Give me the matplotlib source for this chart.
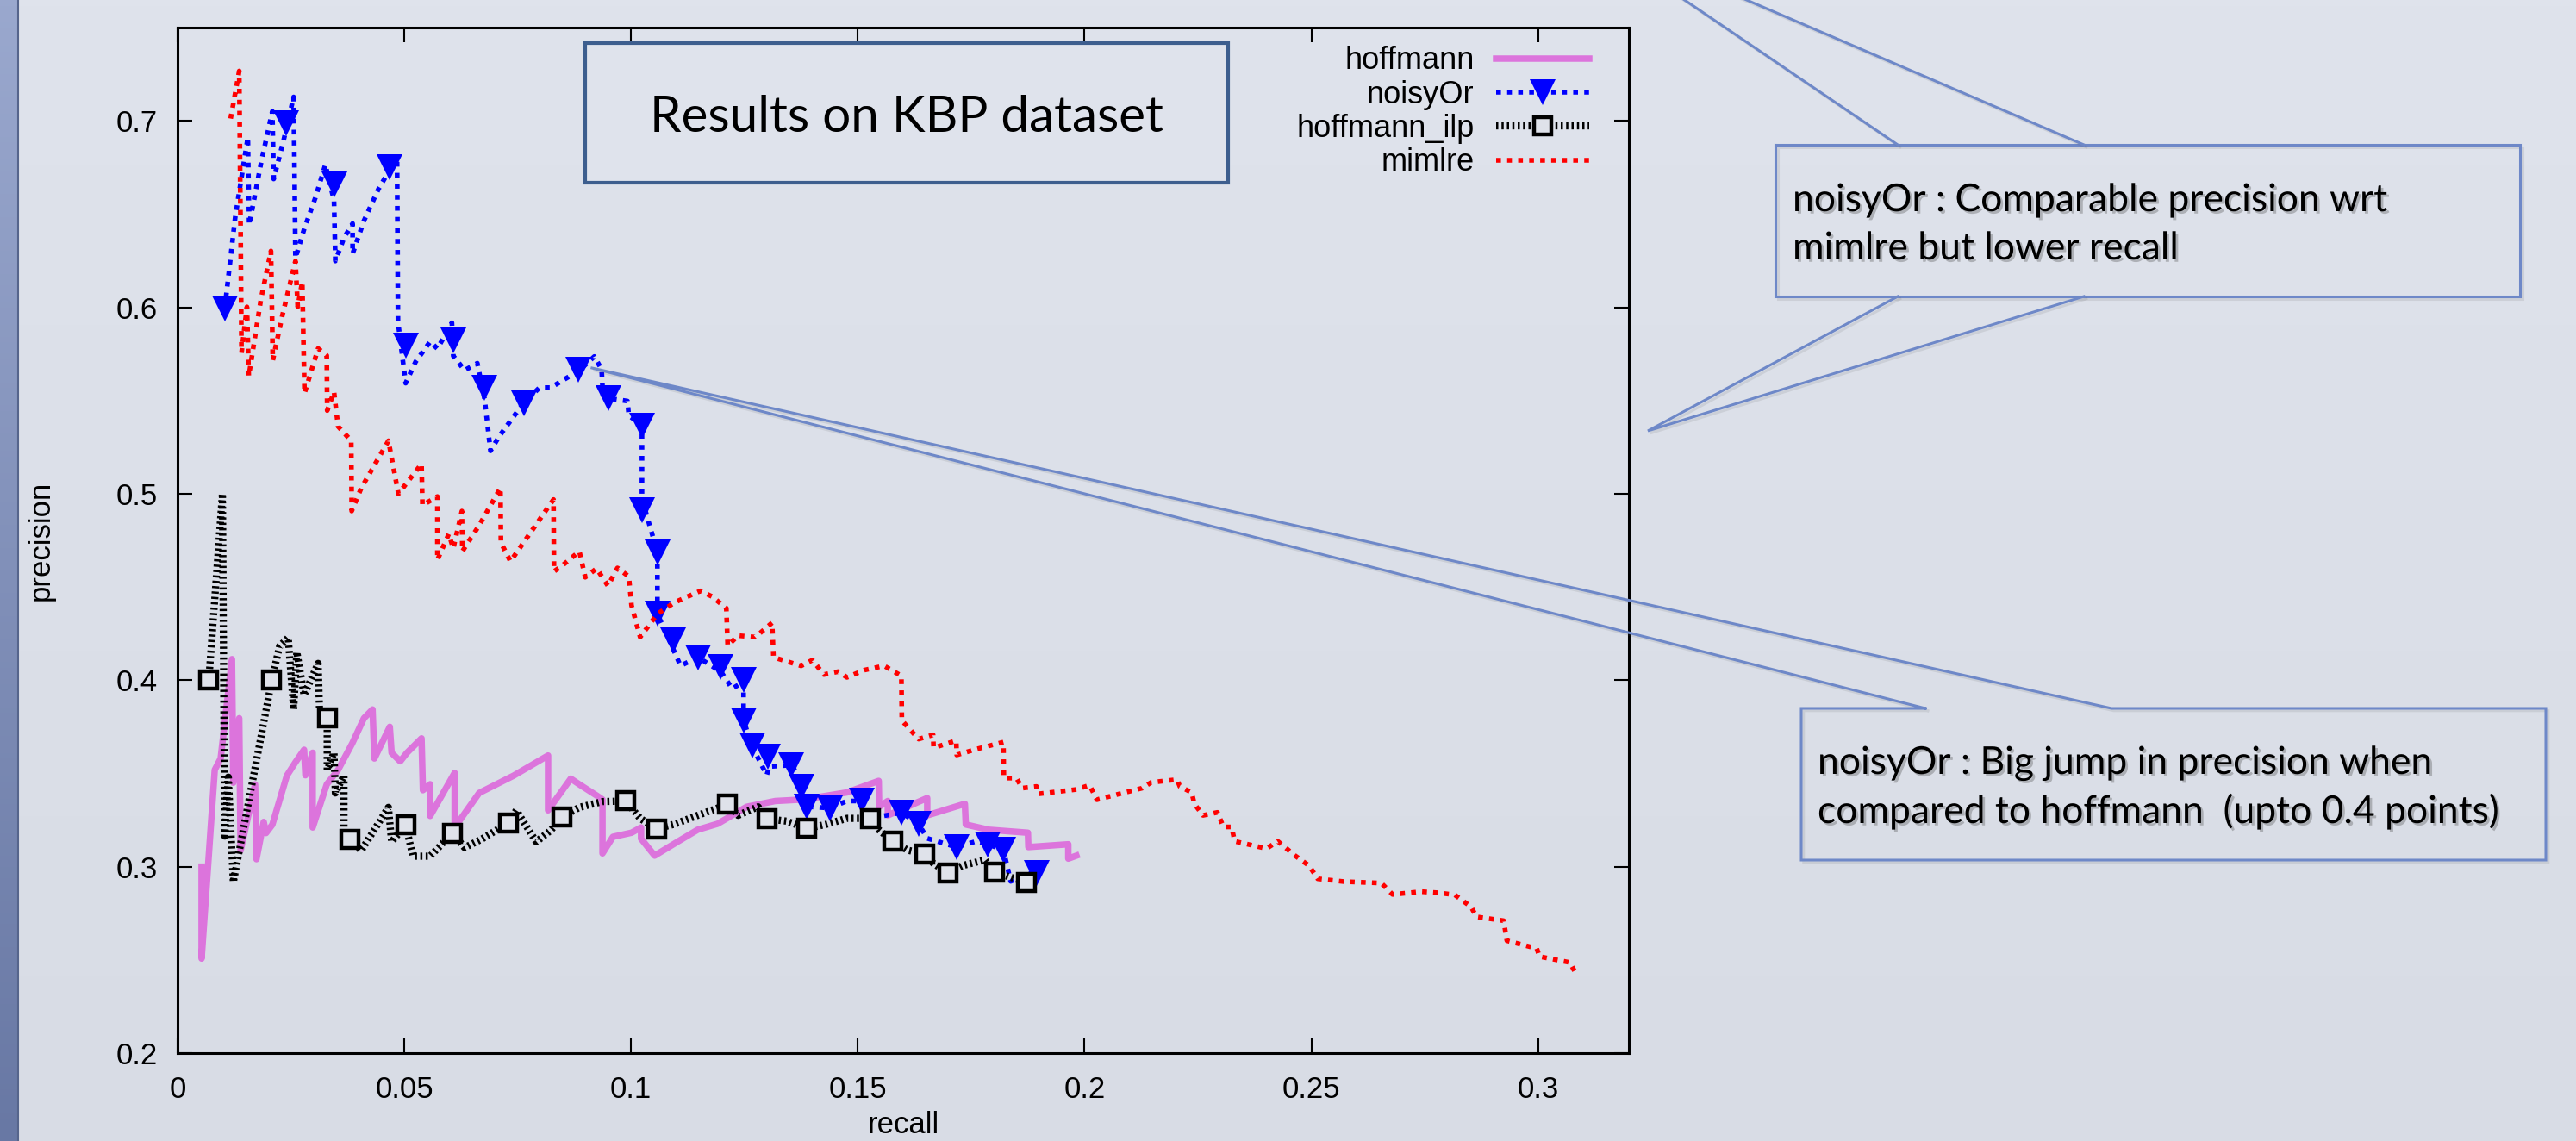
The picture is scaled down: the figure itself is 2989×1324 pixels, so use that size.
import numpy as np
import matplotlib
matplotlib.use("Agg")
import matplotlib.pyplot as plt
import matplotlib.patheffects as pe
from matplotlib.lines import Line2D
from matplotlib.patches import Rectangle

plt.rcParams['font.family'] = ['Liberation Sans', 'DejaVu Sans']

# ---- values (recall, precision) ----
hoff_x = [0.0053, 0.0053, 0.0082, 0.0095, 0.0120, 0.0123, 0.0136, 0.0139, 0.0171, 0.0174,
          0.0190, 0.0195, 0.0209, 0.0241, 0.0260, 0.0279, 0.0282, 0.0298, 0.0298, 0.0329,
          0.0354, 0.0385, 0.0411, 0.0430, 0.0434, 0.0468, 0.0472, 0.0491, 0.0506, 0.0538,
          0.0541, 0.0557, 0.0557, 0.0611, 0.0611, 0.0665, 0.0741, 0.0817, 0.0817, 0.0867,
          0.0886, 0.0925, 0.0937, 0.0937, 0.0960, 0.1001, 0.1022, 0.1022, 0.1052, 0.1100,
          0.1147, 0.1191, 0.1255, 0.1318, 0.1380, 0.1476, 0.1546, 0.1547, 0.1566, 0.1566,
          0.1653, 0.1653, 0.1736, 0.1738, 0.1788, 0.1875, 0.1876, 0.1964, 0.1964, 0.1982]
hoff_y = [0.3000, 0.2507, 0.3519, 0.3580, 0.4113, 0.3450, 0.3796, 0.3086, 0.3441, 0.3040,
          0.3240, 0.3180, 0.3225, 0.3488, 0.3560, 0.3627, 0.3490, 0.3611, 0.3210, 0.3441,
          0.3519, 0.3660, 0.3796, 0.3843, 0.3580, 0.3750, 0.3610, 0.3565, 0.3611, 0.3688,
          0.3410, 0.3442, 0.3272, 0.3503, 0.3210, 0.3395, 0.3488, 0.3596, 0.3302, 0.3472,
          0.3441, 0.3380, 0.3360, 0.3071, 0.3160, 0.3182, 0.3210, 0.3150, 0.3059, 0.3130,
          0.3198, 0.3230, 0.3321, 0.3352, 0.3360, 0.3398, 0.3460, 0.3321, 0.3352, 0.3275,
          0.3368, 0.3275, 0.3337, 0.3226, 0.3198, 0.3182, 0.3105, 0.3120, 0.3043, 0.3059]

noisy_x = [0.0104, 0.0127, 0.0155, 0.0158, 0.0184, 0.0209, 0.0212, 0.0234, 0.0256, 0.0260,
           0.0279, 0.0304, 0.0326, 0.0345, 0.0348, 0.0367, 0.0386, 0.0386, 0.0411, 0.0443,
           0.0484, 0.0486, 0.0503, 0.0525, 0.0557, 0.0573, 0.0605, 0.0608, 0.0633, 0.0661,
           0.0677, 0.0690, 0.0709, 0.0760, 0.0798, 0.0823, 0.0886, 0.0919, 0.0935, 0.0938,
           0.0951, 0.0992, 0.0995, 0.1024, 0.1024, 0.1046, 0.1058, 0.1058, 0.1084, 0.1109,
           0.1147, 0.1198, 0.1223, 0.1248, 0.1248, 0.1267, 0.1299, 0.1305, 0.1356, 0.1375,
           0.1388, 0.1438, 0.1476, 0.1508, 0.1527, 0.1596, 0.1634, 0.1653, 0.1717, 0.1761,
           0.1786, 0.1821, 0.1837, 0.1881, 0.1894]
noisy_y = [0.5994, 0.6480, 0.6912, 0.6441, 0.6773, 0.7051, 0.6688, 0.6897, 0.7128, 0.6264,
           0.6418, 0.6588, 0.6765, 0.6573, 0.6248, 0.6372, 0.6449, 0.6287, 0.6464, 0.6634,
           0.6804, 0.5924, 0.5593, 0.5708, 0.5816, 0.5778, 0.5917, 0.5739, 0.5662, 0.5700,
           0.5508, 0.5230, 0.5307, 0.5477, 0.5569, 0.5569, 0.5662, 0.5736, 0.5667, 0.5528,
           0.5512, 0.5497, 0.5420, 0.5366, 0.4972, 0.4787, 0.4686, 0.4355, 0.4216, 0.4077,
           0.4123, 0.4046, 0.3954, 0.3992, 0.3784, 0.3645, 0.3491, 0.3537, 0.3545, 0.3430,
           0.3322, 0.3314, 0.3352, 0.3352, 0.3259, 0.3290, 0.3229, 0.3152, 0.3105, 0.3136,
           0.3120, 0.3090, 0.2921, 0.2967, 0.2966]
noisy_mx = [0.0104, 0.0240, 0.0345, 0.0468, 0.0503, 0.0608, 0.0677, 0.0763, 0.0883, 0.0951,
            0.1024, 0.1024, 0.1058, 0.1058, 0.1093, 0.1147, 0.1198, 0.1248, 0.1248, 0.1267,
            0.1302, 0.1353, 0.1375, 0.1388, 0.1438, 0.1508, 0.1596, 0.1634, 0.1717, 0.1786,
            0.1821, 0.1894]
noisy_my = [0.5994, 0.6989, 0.6657, 0.6750, 0.5795, 0.5824, 0.5569, 0.5484, 0.5663, 0.5512,
            0.5366, 0.4910, 0.4686, 0.4355, 0.4216, 0.4123, 0.4070, 0.4000, 0.3784, 0.3650,
            0.3591, 0.3545, 0.3430, 0.3322, 0.3314, 0.3352, 0.3290, 0.3229, 0.3105, 0.3120,
            0.3090, 0.2966]

ilp_x = [0.0069, 0.0099, 0.0104, 0.0112, 0.0123, 0.0208, 0.0225, 0.0244, 0.0256, 0.0263,
         0.0279, 0.0310, 0.0313, 0.0330, 0.0330, 0.0345, 0.0348, 0.0367, 0.0367, 0.0380,
         0.0405, 0.0465, 0.0472, 0.0503, 0.0519, 0.0557, 0.0606, 0.0633, 0.0671, 0.0729,
         0.0747, 0.0791, 0.0823, 0.0848, 0.0886, 0.0937, 0.0988, 0.1020, 0.1056, 0.1096,
         0.1147, 0.1213, 0.1236, 0.1280, 0.1300, 0.1343, 0.1388, 0.1432, 0.1476, 0.1527,
         0.1546, 0.1577, 0.1609, 0.1647, 0.1666, 0.1698, 0.1730, 0.1780, 0.1802, 0.1872]
ilp_y = [0.4003, 0.5000, 0.3164, 0.3480, 0.2917, 0.4003, 0.4182, 0.4228, 0.3843, 0.4151,
         0.3920, 0.4090, 0.3843, 0.3796, 0.3519, 0.3611, 0.3395, 0.3488, 0.3148, 0.3144,
         0.3086, 0.3318, 0.3133, 0.3223, 0.3056, 0.3056, 0.3180, 0.3102, 0.3148, 0.3234,
         0.3302, 0.3133, 0.3195, 0.3266, 0.3318, 0.3349, 0.3352, 0.3259, 0.3203, 0.3228,
         0.3275, 0.3334, 0.3275, 0.3321, 0.3257, 0.3244, 0.3204, 0.3228, 0.3259, 0.3259,
         0.3198, 0.3136, 0.3089, 0.3067, 0.3019, 0.2966, 0.3005, 0.3036, 0.2970, 0.2916]
ilp_mx = [0.0069, 0.0208, 0.0330, 0.0380, 0.0503, 0.0606, 0.0729, 0.0848, 0.0988, 0.1056,
          0.1213, 0.1300, 0.1388, 0.1527, 0.1577, 0.1647, 0.1698, 0.1802, 0.1872]
ilp_my = [0.4003, 0.4003, 0.3800, 0.3144, 0.3223, 0.3180, 0.3234, 0.3266, 0.3352, 0.3203,
          0.3334, 0.3257, 0.3204, 0.3259, 0.3136, 0.3067, 0.2966, 0.2970, 0.2916]

mim_x = [0.0117, 0.0136, 0.0139, 0.0141, 0.0153, 0.0157, 0.0184, 0.0206, 0.0210, 0.0231,
         0.0260, 0.0265, 0.0275, 0.0280, 0.0310, 0.0329, 0.0330, 0.0345, 0.0354, 0.0383,
         0.0384, 0.0405, 0.0465, 0.0487, 0.0506, 0.0538, 0.0540, 0.0573, 0.0573, 0.0598,
         0.0608, 0.0627, 0.0628, 0.0665, 0.0712, 0.0713, 0.0734, 0.0785, 0.0829, 0.0830,
         0.0848, 0.0886, 0.0899, 0.0924, 0.0949, 0.0970, 0.0995, 0.1001, 0.1020, 0.1058,
         0.1096, 0.1153, 0.1179, 0.1210, 0.1213, 0.1236, 0.1274, 0.1311, 0.1314, 0.1375,
         0.1400, 0.1425, 0.1457, 0.1476, 0.1514, 0.1558, 0.1596, 0.1597, 0.1634, 0.1666,
         0.1667, 0.1717, 0.1718, 0.1761, 0.1821, 0.1822, 0.1850, 0.1862, 0.1894, 0.1897,
         0.1982, 0.2011, 0.2027, 0.2065, 0.2127, 0.2147, 0.2204, 0.2210, 0.2236, 0.2242,
         0.2261, 0.2293, 0.2306, 0.2324, 0.2331, 0.2401, 0.2426, 0.2464, 0.2495, 0.2514,
         0.2571, 0.2654, 0.2679, 0.2742, 0.2779, 0.2816, 0.2852, 0.2864, 0.2924, 0.2931,
         0.2997, 0.3003, 0.3070, 0.3082]
mim_y = [0.7012, 0.7267, 0.6418, 0.5755, 0.6002, 0.5630, 0.6045, 0.6302, 0.5716, 0.5955,
         0.6248, 0.6002, 0.6137, 0.5539, 0.5779, 0.5741, 0.5446, 0.5546, 0.5361, 0.5284,
         0.4907, 0.5030, 0.5284, 0.4999, 0.5060, 0.5160, 0.4938, 0.4985, 0.4645, 0.4784,
         0.4707, 0.4907, 0.4691, 0.4830, 0.5031, 0.4738, 0.4637, 0.4815, 0.4969, 0.4583,
         0.4614, 0.4691, 0.4552, 0.4599, 0.4506, 0.4602, 0.4556, 0.4401, 0.4231, 0.4355,
         0.4417, 0.4479, 0.4448, 0.4386, 0.4185, 0.4239, 0.4231, 0.4308, 0.4123, 0.4077,
         0.4108, 0.4030, 0.4046, 0.4015, 0.4054, 0.4077, 0.4023, 0.3784, 0.3684, 0.3707,
         0.3637, 0.3676, 0.3599, 0.3630, 0.3668, 0.3475, 0.3475, 0.3421, 0.3430, 0.3390,
         0.3414, 0.3437, 0.3359, 0.3383, 0.3421, 0.3452, 0.3467, 0.3430, 0.3398, 0.3337,
         0.3275, 0.3291, 0.3213, 0.3213, 0.3136, 0.3097, 0.3136, 0.3059, 0.3005, 0.2935,
         0.2920, 0.2912, 0.2851, 0.2866, 0.2860, 0.2849, 0.2785, 0.2731, 0.2710, 0.2603,
         0.2561, 0.2518, 0.2486, 0.2432]

series_names = ['hoffmann', 'noisyOr', 'hoffmann_ilp', 'mimlre']
x_ticks = [0, 0.05, 0.1, 0.15, 0.2, 0.25, 0.3]
x_labels = ['0', '0.05', '0.1', '0.15', '0.2', '0.25', '0.3']
y_ticks = [0.2, 0.3, 0.4, 0.5, 0.6, 0.7]
y_labels = ['0.2', '0.3', '0.4', '0.5', '0.6', '0.7']

title_text = 'Results on KBP dataset'
note1 = ['noisyOr : Comparable precision wrt', 'mimlre but lower recall']
note2 = ['noisyOr : Big jump in precision when', 'compared to hoffmann  (upto 0.4 points)']
note2_tip = (0.0911, 0.5676)   # point on the noisyOr curve the callout points at

# ---- figure ----
W, H = 2989, 1324
fig = plt.figure(figsize=(W / 100, H / 100), dpi=100)


def fxy(px, py):
    # slide pixels (top-left origin) -> figure fraction
    return px / W, 1 - py / H


# slide background + left strip
t = np.linspace(0, 1, 200)[:, None, None]
bg = fig.add_axes([0, 0, 1, 1], zorder=-10)
c0 = np.array([223, 227, 236]) / 255
c1 = np.array([216, 220, 229]) / 255
bg.imshow(c0 + (c1 - c0) * t, aspect='auto', extent=[0, 1, 0, 1])
bg.axis('off')

strip = fig.add_axes([0, 0, 21 / W, 1], zorder=-9)
s0 = np.array([154, 168, 206]) / 255
s1 = np.array([104, 120, 164]) / 255
strip.imshow(s0 + (s1 - s0) * t, aspect='auto', extent=[0, 1, 0, 1])
strip.axis('off')
fig.add_artist(Line2D([21 / W, 21 / W], [0, 1], color='#56658c', lw=1.5))

# main plot
ax = fig.add_axes([206 / W, 1 - 1222 / H, 1684 / W, 1190 / H])
ax.patch.set_alpha(0)

dot = (0, (1.0, 1.3))
fine = (0, (0.3, 0.45))
hoff_style = dict(color='#dc74dc', lw=5.4)
noisy_style = dict(color='#0000ff', lw=4, ls=dot)
noisy_mk = dict(marker='v', ms=22, mfc='#0000ff', mec='#0000ff', mew=0)
ilp_style = dict(color='black', lw=6, ls=fine)
ilp_mk = dict(marker='s', ms=14, mfc='#dfe2ea', mec='black', mew=3.2)
mim_style = dict(color='#ff0000', lw=4, ls=dot)

ax.plot(hoff_x, hoff_y, zorder=3, **hoff_style)
ax.plot(noisy_x, noisy_y, zorder=4, **noisy_style)
ax.plot(noisy_mx, noisy_my, ls='none', zorder=4, **noisy_mk)
ax.plot(ilp_x, ilp_y, zorder=5, **ilp_style)
ax.plot(ilp_mx, ilp_my, ls='none', zorder=5, **ilp_mk)
ax.plot(mim_x, mim_y, zorder=6, **mim_style)

ax.set_xlim(0, 0.32)
ax.set_ylim(0.2, 0.75)
ax.set_xticks(x_ticks)
ax.set_xticklabels(x_labels)
ax.set_yticks(y_ticks)
ax.set_yticklabels(y_labels)
ax.tick_params(direction='in', length=12, width=1.5, top=True, right=True, labelsize=25)
ax.tick_params(axis='y', pad=17)
ax.tick_params(axis='x', pad=19)
for s in ax.spines.values():
    s.set_linewidth(2.2)

ax.set_xlabel('recall', fontsize=25)
ax.xaxis.set_label_coords(0.5, -0.056)
ax.set_ylabel('precision', fontsize=25)
ax.yaxis.set_label_coords(-0.0843, 0.5)

handles = [
    Line2D([], [], **hoff_style),
    Line2D([], [], **noisy_style, **noisy_mk),
    Line2D([], [], **ilp_style, **ilp_mk),
    Line2D([], [], **mim_style),
]
ax.legend(handles, series_names, loc='upper right', bbox_to_anchor=(0.9727, 0.982),
          frameon=False, markerfirst=False, fontsize=26, handlelength=3.0,
          handletextpad=0.7, labelspacing=0.12, borderpad=0, borderaxespad=0, numpoints=1)

# title box
x0, y0 = fxy(679, 212)
x1, y1 = fxy(1425, 50)
fig.add_artist(Rectangle((x0, y0), x1 - x0, y1 - y0, transform=fig.transFigure,
                         fc='#dfe3ec', ec='#3d5e8e', lw=3, zorder=10))
fig.text(*fxy(1052, 153), title_text, ha='center', va='baseline', fontsize=42,
         family=['Lato', 'DejaVu Sans'], zorder=11)

# callouts
call_c = '#6e88c8'
shadow = [pe.SimpleLineShadow(offset=(2, -2), shadow_color='#555555', alpha=0.12), pe.Normal()]
tshadow = [pe.withSimplePatchShadow(offset=(2, -2), shadow_rgbFace='#555555', alpha=0.35)]


def outline(pts):
    xs, ys = zip(*[fxy(px, py) for px, py in pts])
    fig.add_artist(Line2D(xs, ys, color=call_c, lw=2.2, transform=fig.transFigure,
                          path_effects=shadow, zorder=12, solid_joinstyle='miter'))


outline([(2060, 168), (2924, 168), (2924, 344), (2060, 344), (2060, 168)])
outline([(2202, 168), (1831, -84), (2418, 168)])
outline([(2202, 344), (1912, 500), (2418, 344)])

tip_fig = fig.transFigure.inverted().transform(ax.transData.transform(note2_tip))
tip_px = (tip_fig[0] * W, (1 - tip_fig[1]) * H)
outline([(2234, 822), tip_px, (2450, 822), (2954, 822), (2954, 998), (2090, 998),
         (2090, 822), (2234, 822)])

for i, line in enumerate(note1):
    fig.text(*fxy(2080, 245 + 56 * i), line, ha='left', va='baseline', fontsize=32,
             family=['Lato', 'DejaVu Sans'], path_effects=tshadow, zorder=13)
for i, line in enumerate(note2):
    fig.text(*fxy(2109, 898 + 57 * i), line, ha='left', va='baseline', fontsize=32,
             family=['Lato', 'DejaVu Sans'], path_effects=tshadow, zorder=13)

fig.savefig('out.png', dpi=100)
